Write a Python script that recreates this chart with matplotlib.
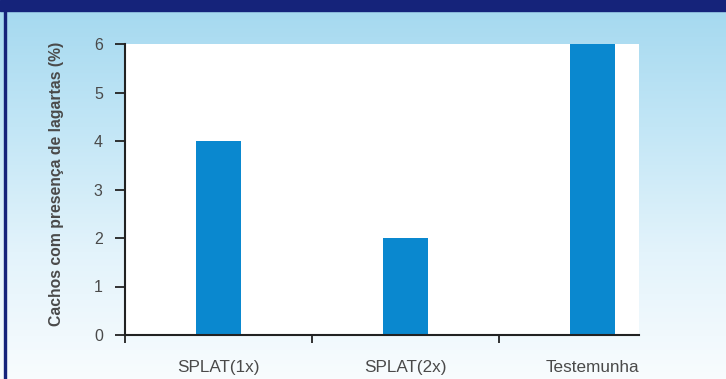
import matplotlib.pyplot as plt
import numpy as np
from matplotlib.colors import LinearSegmentedColormap

categories = ["SPLAT(1x)", "SPLAT(2x)", "Testemunha"]
values = [4, 2, 6]
yticks = [0, 1, 2, 3, 4, 5, 6]

W, H = 726, 379
fig = plt.figure(figsize=(W / 100, H / 100), dpi=100)

# background gradient
bg = fig.add_axes([0, 0, 1, 1])
cmap = LinearSegmentedColormap.from_list("bg", ["#f8fcfe", "#e3f3fb", "#c2e6f6", "#a3d8ef"])
grad = np.linspace(0, 1, 256).reshape(-1, 1)
bg.imshow(grad, aspect="auto", cmap=cmap, origin="lower", extent=[0, W, 0, H])
bg.add_patch(plt.Rectangle((0, H - 11), W, 11, color="#15237a"))
bg.add_patch(plt.Rectangle((4, 0), 2, H - 11, color="#15237a"))
bg.set_xlim(0, W)
bg.set_ylim(0, H)
bg.axis("off")

# plot area
left, right, top, bottom = 125, 639, 44, 335
ax = fig.add_axes([left / W, (H - bottom) / H, (right - left) / W, (bottom - top) / H])
ax.set_facecolor("white")
x = np.arange(len(categories))
ax.bar(x, values, width=0.24, color="#0a88cf", zorder=2)

ax.set_ylim(0, 6)
ax.set_xlim(-0.5, -0.5 + (right - left) / 187)
ax.set_yticks(yticks)
ax.set_xticks(x)
ax.set_xticklabels(categories, fontsize=12.3, color="#4a4a4a", family="Liberation Sans")
ax.set_xticks([-0.5, 0.5, 1.5], minor=True)
ax.tick_params(axis="x", which="major", length=0, pad=18)
ax.tick_params(axis="x", which="minor", length=6, width=1.3, direction="out", color="#222222")
ax.tick_params(axis="y", length=7, width=1.3, color="#222222", labelsize=11.5,
               labelcolor="#4a4a4a", pad=9)
for lab in ax.get_yticklabels():
    lab.set_family("Liberation Sans")

for s in ["top", "right"]:
    ax.spines[s].set_visible(False)
for s in ["left", "bottom"]:
    ax.spines[s].set_linewidth(1.5)
    ax.spines[s].set_color("#222222")

fig.text(57 / W, 1 - 184 / H, "Cachos com presença de lagartas (%)", rotation=90,
         ha="center", va="center", fontsize=11.3, fontweight="bold",
         color="#4a4a4a", family="Liberation Sans")

fig.savefig("out.png", dpi=100)
